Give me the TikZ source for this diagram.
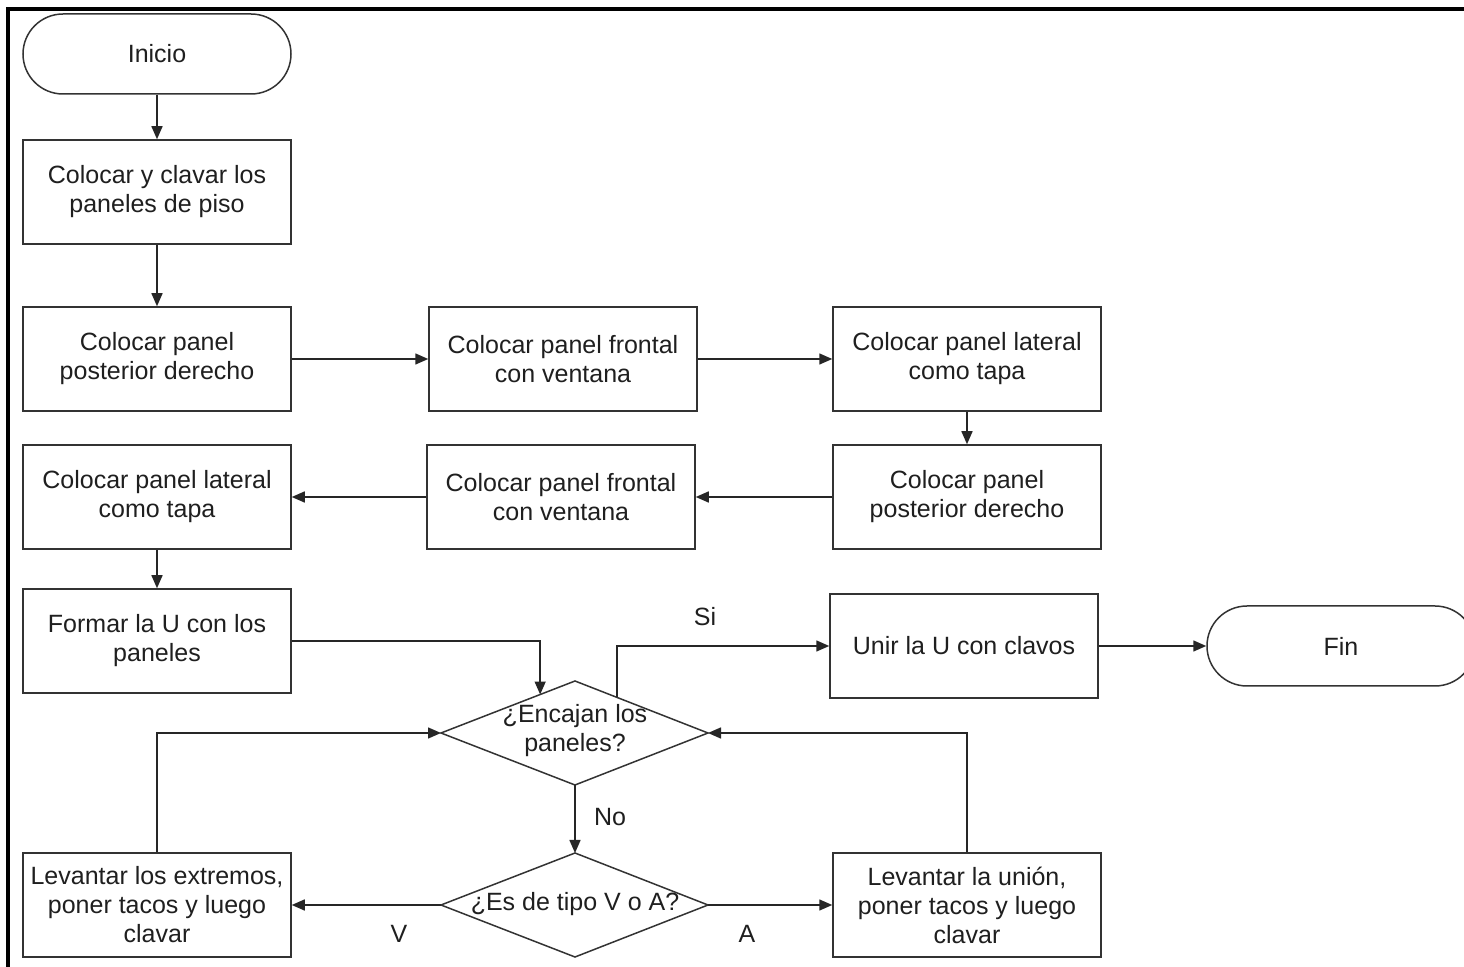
\documentclass[tikz,border=0pt]{standalone}
\usepackage{fontspec}
\setmainfont{Liberation Sans}
\usetikzlibrary{arrows.meta,calc}
\begin{document}
\begin{tikzpicture}[x=0.5pt,y=-0.5pt,
  every node/.style={font=\fontsize{12.5}{14.5}\selectfont, text=black!88},
  proc/.style={draw=black!80, line width=0.75pt, minimum width=134pt, minimum height=52pt, inner sep=0pt, align=center},
  term/.style={draw=black!80, line width=0.75pt, rounded corners=20pt, minimum width=134pt, minimum height=40pt, inner sep=0pt, align=center},
  dtext/.style={align=center, inner sep=0pt},
  flow/.style={draw=black!85, line width=0.75pt, -{Triangle[length=6.5pt,width=5.5pt]}},
  lbl/.style={inner sep=0pt}]
  % canvas and frame
  \clip (0,0) rectangle (1464,967);
  \fill[white] (0,0) rectangle (1464,967);
  \draw[line width=1.6pt] (8,967) -- (8,9) -- (1464,9);

  % terminals
  \node[term] (ini) at (157,54) {Inicio};
  \node[term] (fin) at (1341,646) {Fin};

  % process steps
  \node[proc] (b1) at (157,192) {Colocar y clavar los\\paneles de piso};
  \node[proc] (b2) at (157,359) {Colocar panel\\posterior derecho};
  \node[proc] (b3) at (563,359) {Colocar panel frontal\\con ventana};
  \node[proc] (b4) at (967,359) {Colocar panel lateral\\como tapa};
  \node[proc] (b5) at (967,497) {Colocar panel\\posterior derecho};
  \node[proc] (b6) at (561,497) {Colocar panel frontal\\con ventana};
  \node[proc] (b7) at (157,497) {Colocar panel lateral\\como tapa};
  \node[proc] (b8) at (157,641) {Formar la U con los\\paneles};
  \node[proc] (b9) at (964,646) {Unir la U con clavos};
  \node[proc] (b10) at (157,905) {Levantar los extremos,\\poner tacos y luego\\clavar};
  \node[proc] (b11) at (967,905) {Levantar la unión,\\poner tacos y luego\\clavar};

  % decisions
  \coordinate (d1n) at (575,681);
  \coordinate (d1e) at (708,733);
  \coordinate (d1s) at (575,785);
  \coordinate (d1w) at (441,733);
  \draw[black!80, line width=0.75pt] (d1n) -- (d1e) -- (d1s) -- (d1w) -- cycle;
  \node[dtext] (d1) at (575,731) {¿Encajan los\\paneles?};

  \coordinate (d2n) at (575,853);
  \coordinate (d2e) at (708,905);
  \coordinate (d2s) at (575,957);
  \coordinate (d2w) at (441,905);
  \draw[black!80, line width=0.75pt] (d2n) -- (d2e) -- (d2s) -- (d2w) -- cycle;
  \node[dtext] (d2) at (575,904) {¿Es de tipo V o A?};

  \coordinate (d1in) at ($(d1n)!0.26!(d1w)$);
  \coordinate (d1out) at ($(d1n)!0.316!(d1e)$);

  % connectors
  \draw[flow] (ini) -- (b1);
  \draw[flow] (b1) -- (b2);
  \draw[flow] (b2) -- (b3);
  \draw[flow] (b3) -- (b4);
  \draw[flow] (b4) -- (b5);
  \draw[flow] (b5) -- (b6);
  \draw[flow] (b6) -- (b7);
  \draw[flow] (b7) -- (b8);
  \draw[flow] (b8.east) -| (d1in);
  \draw[flow] (d1out) |- (b9.west);
  \draw[flow] (b9) -- (fin);
  \draw[flow] (d1s) -- (d2n);
  \draw[flow] (d2w) -- (b10.east);
  \draw[flow] (d2e) -- (b11.west);
  \draw[flow] (b10.north) |- (d1w);
  \draw[flow] (b11.north) |- (d1e);

  % branch labels
  \node[lbl] (si) at (705,617) {Si};
  \node[lbl] (no) at (610,817) {No};
  \node[lbl] (v) at (399,934) {V};
  \node[lbl] (a) at (747,934) {A};
\end{tikzpicture}
\end{document}
